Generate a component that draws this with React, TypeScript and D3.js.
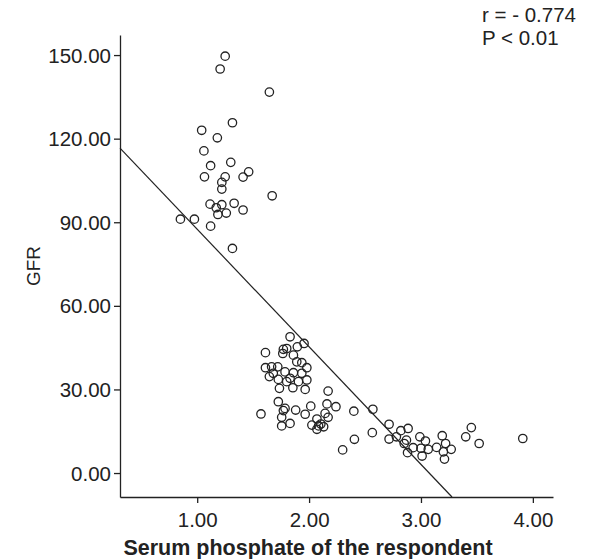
import { useEffect, useRef } from 'react'
import * as d3 from 'd3'

// serum phosphate (x) vs GFR (y)
const phosphate = [
  1.25, 1.205, 1.645, 1.315, 1.04, 1.18, 1.06, 1.12, 1.3, 1.065, 1.25, 1.22, 1.22, 1.41,
  1.46, 1.67, 1.115, 1.17, 1.22, 1.33, 1.41, 1.185, 1.26, 0.85, 0.975, 1.12, 1.315,
  1.83, 1.955, 1.895, 1.8, 1.77, 1.765, 1.61, 1.86, 1.89, 1.935, 1.98, 1.61, 1.665, 1.72,
  1.645, 1.68, 1.725, 1.785, 1.8, 1.86, 1.83, 1.905, 1.935, 1.98, 1.735, 1.855, 1.965,
  2.17, 1.725, 1.785, 1.77, 1.57, 1.755, 1.83, 1.755, 1.88, 1.965, 2.015, 2.16, 2.24,
  2.143, 2.17, 2.07, 2.025, 2.085, 2.13, 2.07, 2.105, 2.4, 2.405, 2.3,
  2.57, 2.715, 2.565, 2.715, 2.82, 2.885, 2.78, 2.87, 2.85, 2.88, 2.93, 2.99, 3.04, 3.0,
  3.01, 3.065, 3.14, 3.19, 3.22, 3.27, 3.2, 3.21, 3.45, 3.4, 3.52, 3.91,
]
const gfr = [
  149.6, 145, 136.7, 125.7, 123, 120.3, 115.6, 110.3, 111.5, 106.3, 106.3, 104.3, 101.9, 106.2,
  108.1, 99.5, 96.5, 95.2, 96.3, 96.8, 94.4, 92.8, 93.3, 91.1, 91.1, 88.6, 80.6,
  48.9, 46.5, 45.3, 44.7, 44.4, 42.9, 43.2, 42.3, 39.9, 39.6, 37.8, 37.8, 38.1, 38.1,
  34.6, 35.8, 33.6, 36.3, 32.8, 36.0, 34.0, 32.8, 35.8, 33.4, 30.4, 30.6, 30.0,
  29.4, 25.6, 23.2, 22.4, 21.2, 20.0, 17.8, 16.9, 22.6, 21.1, 24.0, 24.8, 23.8,
  21.4, 20.0, 19.4, 17.2, 16.9, 16.6, 15.7, 17.6, 22.2, 12.1, 8.3,
  22.9, 17.5, 14.5, 12.2, 15.2, 16.0, 13.0, 11.8, 10.6, 7.3, 9.1, 13.0, 11.5, 8.9,
  6.1, 8.5, 9.2, 13.4, 10.6, 8.5, 7.6, 5.0, 16.3, 13.0, 10.6, 12.4,
]
const xTicks = [1, 2, 3, 4]
const yTicks = [0, 30, 60, 90, 120, 150]
const fitIntercept = 129.7
const fitSlope = -42.2
const statLines = ['r = - 0.774', 'P < 0.01']

export default function App() {
  const svgRef = useRef<SVGSVGElement | null>(null)

  useEffect(() => {
    if (!svgRef.current) return
    const svg = d3.select(svgRef.current)
    svg.selectAll('*').remove()

    const font = '"Liberation Sans", Arial, sans-serif'
    const x = d3.scaleLinear().domain([0.31, 4.18]).range([120, 553])
    const y = d3.scaleLinear().domain([-8.6, 157.2]).range([497, 35])

    // axes
    const xAxis = svg
      .append('g')
      .attr('transform', `translate(0,${y.range()[0]})`)
      .call(d3.axisBottom(x).tickValues(xTicks).tickFormat(d3.format('.2f')).tickSize(6).tickSizeOuter(0))
    const yAxis = svg
      .append('g')
      .attr('transform', `translate(${x.range()[0]},0)`)
      .call(d3.axisLeft(y).tickValues(yTicks).tickFormat(d3.format('.2f')).tickSize(6).tickSizeOuter(0))

    ;[xAxis, yAxis].forEach((g) => {
      g.select('.domain').attr('stroke', '#222').attr('stroke-width', 1.3)
      g.selectAll('.tick line').attr('stroke', '#222').attr('stroke-width', 1.3)
      g.selectAll('.tick text').attr('fill', '#222').style('font-family', font).style('font-size', '20.5px')
    })
    xAxis.selectAll('.tick text').attr('dy', '1.0em')
    yAxis.selectAll('.tick text').attr('x', -9).attr('dy', '0.34em')

    // fit line, clipped to the plot box
    const x0 = x.domain()[0]
    const x1 = (y.domain()[0] - fitIntercept) / fitSlope
    svg
      .append('line')
      .attr('x1', x(x0))
      .attr('y1', y(fitIntercept + fitSlope * x0))
      .attr('x2', x(x1))
      .attr('y2', y(fitIntercept + fitSlope * x1))
      .attr('stroke', '#222')
      .attr('stroke-width', 1.2)

    // points
    svg
      .append('g')
      .selectAll('circle')
      .data(d3.range(phosphate.length))
      .join('circle')
      .attr('cx', (i) => x(phosphate[i]))
      .attr('cy', (i) => y(gfr[i]))
      .attr('r', 4.2)
      .attr('fill', 'none')
      .attr('stroke', '#222')
      .attr('stroke-width', 1.3)

    // titles
    svg
      .append('text')
      .attr('x', 308)
      .attr('y', 555)
      .attr('text-anchor', 'middle')
      .style('font-family', font)
      .style('font-size', '21.5px')
      .style('font-weight', 'bold')
      .attr('fill', '#222')
      .text('Serum phosphate of the respondent')

    svg
      .append('text')
      .attr('transform', 'translate(40,266) rotate(-90)')
      .attr('text-anchor', 'middle')
      .style('font-family', font)
      .style('font-size', '19px')
      .attr('fill', '#222')
      .text('GFR')

    svg
      .append('g')
      .selectAll('text')
      .data(statLines)
      .join('text')
      .attr('x', 482)
      .attr('y', (_, i) => 22 + i * 23)
      .style('font-family', font)
      .style('font-size', '20.5px')
      .attr('fill', '#222')
      .text((d) => d)
  }, [])

  return (
    <svg
      ref={svgRef}
      width={590}
      height={559}
      style={{ position: 'absolute', left: 0, top: 0, background: '#fff' }}
    ></svg>
  )
}
